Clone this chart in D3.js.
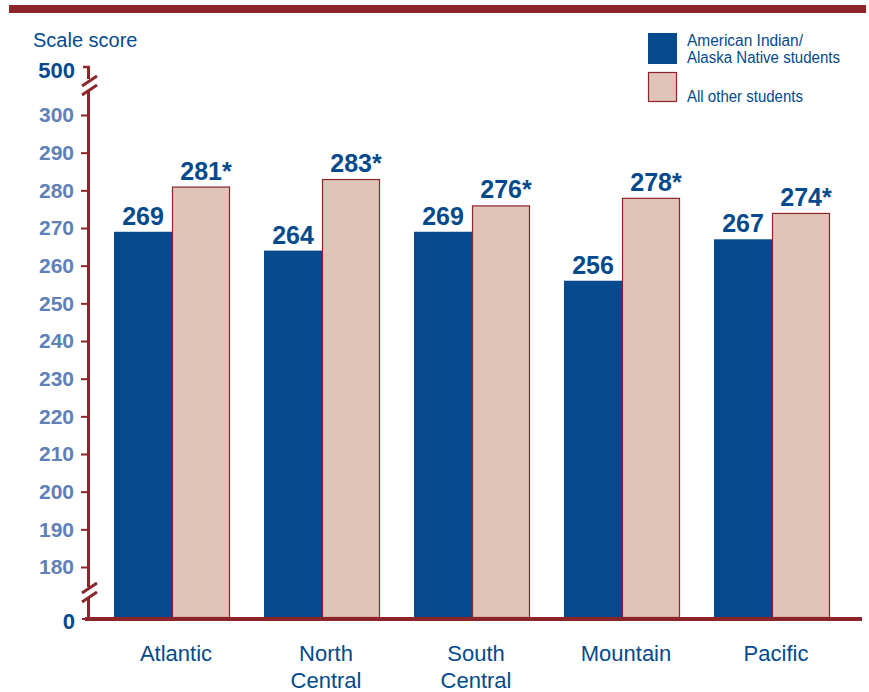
<!DOCTYPE html>
<html><head><meta charset="utf-8">
<script src="https://cdn.jsdelivr.net/npm/d3@7"></script>
<style>
body{margin:0;background:#fff;}
svg{display:block;}
</style></head>
<body>
<svg id="chart" width="869" height="692"></svg>
<script>
const categories = [["Atlantic"], ["North","Central"], ["South","Central"], ["Mountain"], ["Pacific"]];
const seriesNames = ["American Indian/\nAlaska Native students", "All other students"];
const aianValues = [269, 264, 269, 256, 267];
const otherValues = [281, 283, 276, 278, 274];
const otherLabels = ["281*", "283*", "276*", "278*", "274*"];
const yTicks = [180,190,200,210,220,230,240,250,260,270,280,290,300];

const RED = "#8b2529", BLUE = "#044a8c", PINK = "#e0c4b8", TICKBLUE = "#6080b8";
const svg = d3.select("#chart");
const font = "Arial,'Liberation Sans',sans-serif";

// top banner
svg.append("rect").attr("x",9).attr("y",5).attr("width",857).attr("height",8).attr("fill",RED);

const y = d3.scaleLinear().domain([180,300]).range([567,115]);
const baseY = 619;
const x0 = d3.scaleBand().domain(d3.range(categories.length)).range([97,847]).paddingInner(34/150).paddingOuter(17/150);
const x1 = d3.scaleBand().domain([0,1]).range([0,x0.bandwidth()]);

// title
svg.append("text").attr("x",33).attr("y",47).text("Scale score")
  .attr("font-family",font).attr("font-size",20).attr("fill",BLUE);

// bars
const g = svg.append("g");
categories.forEach((c,i)=>{
  const gx = x0(i);
  const vals = [aianValues[i], otherValues[i]];
  vals.forEach((v,j)=>{
    const r = g.append("rect").attr("x",gx+x1(j)).attr("y",y(v))
      .attr("width",x1.bandwidth()).attr("height",baseY-2-y(v))
      .attr("fill", j===0?BLUE:PINK);
    if(j===1) r.attr("stroke",RED).attr("stroke-width",1.2)
      .attr("x",gx+x1(j)+0.5).attr("width",x1.bandwidth()-1).attr("y",y(v)+0.5).attr("height",baseY-2-y(v));
    g.append("text").attr("x",gx+x1(j)+x1.bandwidth()/2 + (j===1?5:0)).attr("y",y(v)-7)
      .attr("text-anchor","middle").attr("font-family",font).attr("font-weight","bold")
      .attr("font-size",25).attr("fill",BLUE).text(j===0?String(v):otherLabels[i]);
  });
  const t = svg.append("text").attr("text-anchor","middle").attr("font-family",font)
    .attr("font-size",22).attr("fill",BLUE);
  c.forEach((line,k)=>{
    t.append("tspan").attr("x",gx+x0.bandwidth()/2+4).attr("y",661+k*27).text(line);
  });
});

// y axis ticks
const ax = svg.append("g").attr("transform","translate(88,0)")
  .call(d3.axisLeft(y).tickValues(yTicks).tickSize(7).tickPadding(7));
ax.select(".domain").remove();
ax.selectAll(".tick line").attr("stroke",RED).attr("stroke-width",2);
ax.selectAll(".tick text").attr("font-family",font).attr("font-weight","bold")
  .attr("font-size",21).attr("fill",TICKBLUE);

// special labels 500 and 0
[[ "500", 70 ], [ "0", 621 ]].forEach(([t,yy])=>{
  svg.append("text").attr("x",75).attr("y",yy).attr("dy","0.35em").attr("text-anchor","end")
    .attr("font-family",font).attr("font-weight","bold").attr("font-size",22)
    .attr("fill",BLUE).text(t);
});

// y axis line with breaks
const line = (x1_,y1_,x2_,y2_,w)=>svg.append("line").attr("x1",x1_).attr("y1",y1_).attr("x2",x2_).attr("y2",y2_)
  .attr("stroke",RED).attr("stroke-width",w);
line(83,67,90,67,2.5);
line(88.5,66,88.5,79,3);
line(88.5,90,88.5,587,3);
line(88.5,597,88.5,621,3);
// break slashes
line(82,86,97,76,3); line(82,95,97,85,3);
line(82,593,97,583,3); line(82,602,97,592,3);
// x axis
line(85,baseY,862,baseY,4);
svg.append("line").attr("x1",82).attr("y1",baseY).attr("x2",88).attr("y2",baseY).attr("stroke",RED).attr("stroke-width",2);

// legend
svg.append("rect").attr("x",648).attr("y",33).attr("width",29).attr("height",31).attr("fill",BLUE);
svg.append("rect").attr("x",648.5).attr("y",72.5).attr("width",28).attr("height",29).attr("fill",PINK)
  .attr("stroke",RED).attr("stroke-width",1.2);
const legLens = [[116,153],[116]];
seriesNames[0].split("\n").forEach((s,k)=>{
  svg.append("text").attr("x",687).attr("y",46+k*17).attr("font-family",font).attr("font-size",16)
    .attr("fill",BLUE).attr("textLength",legLens[0][k]).attr("lengthAdjust","spacingAndGlyphs").text(s);
});
svg.append("text").attr("x",687).attr("y",102).attr("font-family",font).attr("font-size",16)
  .attr("fill",BLUE).attr("textLength",legLens[1][0]).attr("lengthAdjust","spacingAndGlyphs").text(seriesNames[1]);
</script>
</body></html>
